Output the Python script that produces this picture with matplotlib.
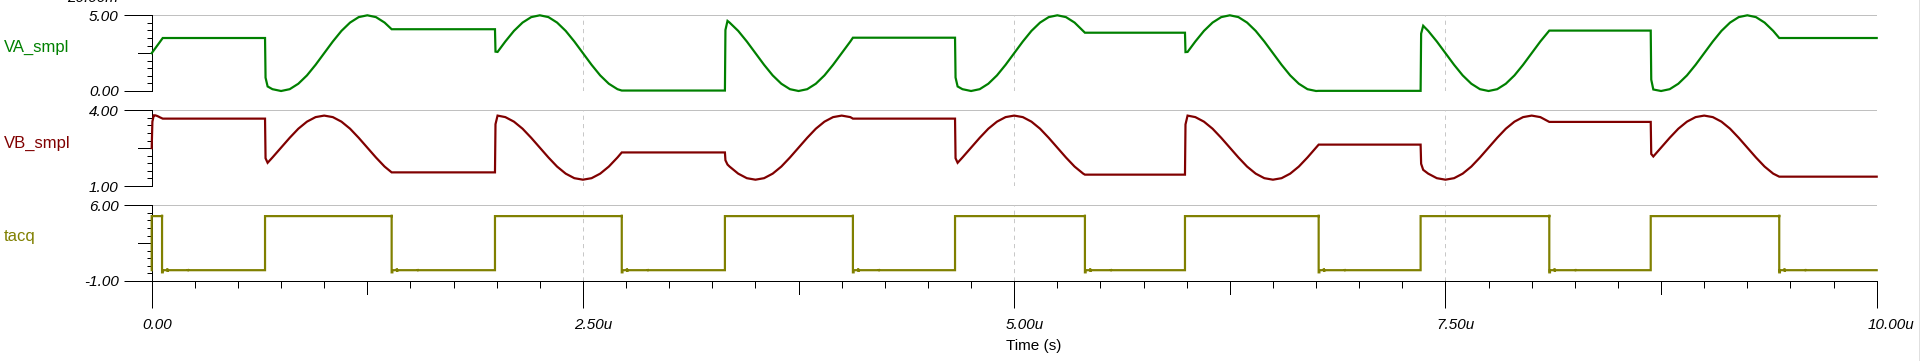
import matplotlib
matplotlib.use("Agg")
import matplotlib.pyplot as plt
from matplotlib.transforms import ScaledTranslation

plt.rcParams['font.family'] = ['Liberation Sans', 'DejaVu Sans']
plt.rcParams['lines.scale_dashes'] = False

# ---------------- data (time in microseconds) ----------------
t_us = [
    0.000, 0.004, 0.012, 0.020, 0.030, 0.040, 0.045, 0.064,
    0.657, 0.660, 0.672, 0.70, 0.75, 0.80, 0.85, 0.90, 0.95, 1.00, 1.05, 1.10, 1.15, 1.20, 1.25, 1.30, 1.35, 1.391,
    1.990, 1.993, 2.005, 2.05, 2.10, 2.15, 2.20, 2.25, 2.30, 2.35, 2.40, 2.45, 2.50, 2.55, 2.60, 2.65, 2.70, 2.725,
    3.323, 3.326, 3.338, 3.35, 3.40, 3.45, 3.50, 3.55, 3.60, 3.65, 3.70, 3.75, 3.80, 3.85, 3.90, 3.95, 4.00, 4.05, 4.065,
    4.657, 4.660, 4.672, 4.70, 4.75, 4.80, 4.85, 4.90, 4.95, 5.00, 5.05, 5.10, 5.15, 5.20, 5.25, 5.30, 5.35, 5.40, 5.410,
    5.990, 5.993, 6.005, 6.05, 6.10, 6.15, 6.20, 6.25, 6.30, 6.35, 6.40, 6.45, 6.50, 6.55, 6.60, 6.65, 6.70, 6.75, 6.765,
    7.356, 7.359, 7.371, 7.40, 7.45, 7.50, 7.55, 7.60, 7.65, 7.70, 7.75, 7.80, 7.85, 7.90, 7.95, 8.00, 8.05, 8.102,
    8.690, 8.693, 8.705, 8.75, 8.80, 8.85, 8.90, 8.95, 9.00, 9.05, 9.10, 9.15, 9.20, 9.25, 9.30, 9.35, 9.40, 9.435,
    10.00,
]
va_smpl = [
    2.50, 2.56, 2.69, 2.81, 2.97, 3.12, 3.20, 3.50,
    3.50, 0.88, 0.30, 0.12, 0.00, 0.12, 0.48, 1.03, 1.73, 2.50, 3.27, 3.97, 4.52, 4.88, 5.00, 4.88, 4.52, 4.08,
    4.08, 2.60, 2.58, 3.27, 3.97, 4.52, 4.88, 5.00, 4.88, 4.52, 3.97, 3.27, 2.50, 1.73, 1.03, 0.48, 0.12, 0.03,
    0.03, 4.03, 4.63, 4.52, 3.97, 3.27, 2.50, 1.73, 1.03, 0.48, 0.12, 0.00, 0.12, 0.48, 1.03, 1.73, 2.50, 3.27, 3.52,
    3.52, 0.89, 0.30, 0.12, 0.00, 0.12, 0.48, 1.03, 1.73, 2.50, 3.27, 3.97, 4.52, 4.88, 5.00, 4.88, 4.52, 3.97, 3.85,
    3.85, 2.57, 2.58, 3.27, 3.97, 4.52, 4.88, 5.00, 4.88, 4.52, 3.97, 3.27, 2.50, 1.73, 1.03, 0.48, 0.12, 0.00, 0.01,
    0.01, 3.79, 4.31, 3.97, 3.27, 2.50, 1.73, 1.03, 0.48, 0.12, 0.00, 0.12, 0.48, 1.03, 1.73, 2.50, 3.27, 3.99,
    3.99, 0.75, 0.10, 0.00, 0.12, 0.48, 1.03, 1.73, 2.50, 3.27, 3.97, 4.52, 4.88, 5.00, 4.88, 4.52, 3.97, 3.50,
    3.50,
]
vb_smpl = [
    2.50, 3.55, 3.80, 3.80, 3.78, 3.75, 3.73, 3.67,
    3.67, 2.10, 1.92, 2.13, 2.52, 2.91, 3.27, 3.55, 3.73, 3.79, 3.73, 3.55, 3.27, 2.91, 2.52, 2.13, 1.77, 1.54,
    1.54, 3.45, 3.79, 3.73, 3.55, 3.27, 2.91, 2.52, 2.13, 1.77, 1.49, 1.31, 1.25, 1.31, 1.49, 1.77, 2.13, 2.33,
    2.33, 2.02, 1.85, 1.77, 1.49, 1.31, 1.25, 1.31, 1.49, 1.77, 2.13, 2.52, 2.91, 3.27, 3.55, 3.73, 3.79, 3.73, 3.67,
    3.67, 2.10, 1.92, 2.13, 2.52, 2.91, 3.27, 3.55, 3.73, 3.79, 3.73, 3.55, 3.27, 2.91, 2.52, 2.13, 1.77, 1.49, 1.45,
    1.45, 3.44, 3.79, 3.73, 3.55, 3.27, 2.91, 2.52, 2.13, 1.77, 1.49, 1.31, 1.25, 1.31, 1.49, 1.77, 2.13, 2.52, 2.64,
    2.64, 1.88, 1.64, 1.49, 1.31, 1.25, 1.31, 1.49, 1.77, 2.13, 2.52, 2.91, 3.27, 3.55, 3.73, 3.79, 3.73, 3.54,
    3.54, 2.27, 2.17, 2.52, 2.91, 3.27, 3.55, 3.73, 3.79, 3.73, 3.55, 3.27, 2.91, 2.52, 2.13, 1.77, 1.49, 1.37,
    1.37,
]

tacq_rise_us = [0.0, 0.657, 1.990, 3.323, 4.657, 5.990, 7.356, 8.690]
tacq_fall_us = [0.060, 1.391, 2.725, 4.065, 5.410, 6.765, 8.102, 9.435]
tacq_high = 5.0
tacq_low = 0.0
tacq_overshoot = 5.12
# small glitch after each falling edge: (delay in us, value)
tacq_glitch = [(0.0, -0.2), (0.004, -0.2), (0.004, 0.0), (0.03, 0.0), (0.03, 0.15),
               (0.032, -0.12), (0.034, 0.0), (0.15, 0.0), (0.15, 0.1), (0.152, 0.0)]

panel_names = ["VA_smpl", "VB_smpl", "tacq"]
panel_ylims = [(0.0, 5.0), (1.0, 4.0), (-1.0, 6.0)]
panel_colors = ["#008000", "#800000", "#808000"]
x_major = [0.0, 2.5, 5.0, 7.5, 10.0]
x_major_labels = ["0.00", "2.50u", "5.00u", "7.50u", "10.00u"]
x_medium = [1.25, 3.75, 6.25, 8.75]

# build tacq step waveform from edge lists
tacq_t = [0.0]
tacq_v = [tacq_low]
for r, f in zip(tacq_rise_us, tacq_fall_us):
    tacq_t += [r, r, f, f]
    tacq_v += [tacq_low, tacq_high, tacq_high, tacq_overshoot]
    for d, v in tacq_glitch:
        tacq_t.append(f + d)
        tacq_v.append(v)
tacq_t.append(10.0)
tacq_v.append(tacq_low)

series = [(t_us, va_smpl), (t_us, vb_smpl), (tacq_t, tacq_v)]

# ---------------- figure ----------------
W, H = 1925, 361
fig = plt.figure(figsize=(W / 100, H / 100), dpi=100)
fig.patch.set_facecolor("white")

L, R = 151.7, 1876.7
panel_px = [(15.3, 91.0), (110.3, 186.0), (205.3, 281.0)]
label_y = [47, 143, 237]
axw = R - L

PX = 72 / 100.0  # points per pixel
tick_font = dict(family=['Liberation Sans', 'DejaVu Sans'], style='italic', size=11)

axes = []
for i, ((top, bot), name, (lo, hi), col, (xs, ys)) in enumerate(
        zip(panel_px, panel_names, panel_ylims, panel_colors, series)):
    ax = fig.add_axes([L / W, 1 - bot / H, axw / W, (bot - top) / H])
    axes.append(ax)
    ax.set_xlim(0, 10)
    ax.set_ylim(lo, hi)
    ax.set_facecolor("white")
    for s in ["top", "right", "bottom"]:
        ax.spines[s].set_visible(False)
    ax.spines["left"].set_color("black")
    ax.spines["left"].set_linewidth(1 * PX)

    # grid / frame lines
    ax.axhline(hi, color="#c0c0c0", lw=1 * PX, zorder=1)
    if i < 2:
        ax.axhline(lo, color="#c0c0c0", lw=1 * PX, zorder=1)
    ax.axvline(10.0, color="#c0c0c0", lw=1 * PX, zorder=1)
    for xv in [2.5, 5.0, 7.5]:
        ax.axvline(xv, color="#c8c8c8", lw=1 * PX, dashes=(3, 3), zorder=1)

    # data
    ax.plot(xs, ys, color=col, lw=2.2 * PX, zorder=3, clip_on=False, solid_joinstyle='miter')

    # y ticks
    step = (hi - lo) / 10.0
    ax.set_yticks([lo, hi])
    ax.set_yticklabels([f"{lo:.2f}", f"{hi:.2f}"], fontdict=tick_font)
    ax.set_yticks([lo + k * step for k in range(1, 10)], minor=True)
    ax.tick_params(axis="y", which="major", length=28 * PX, width=1 * PX,
                   pad=5 * PX, colors="black")
    ax.tick_params(axis="y", which="minor", length=5 * PX, width=1 * PX, colors="black")
    mid = (lo + hi) / 2.0
    ax.plot([-14 / axw, 0], [mid, mid], color="black", lw=1 * PX,
            transform=ax.get_yaxis_transform(), clip_on=False)

    # panel label
    fig.text(4 / W, 1 - label_y[i] / H, name, color=col, size=12,
             ha="left", va="center")

    if i < 2:
        ax.tick_params(axis="x", which="both", bottom=False, labelbottom=False)
    else:
        ax.spines["bottom"].set_visible(True)
        ax.spines["bottom"].set_color("black")
        ax.spines["bottom"].set_linewidth(1 * PX)
        ax.set_xticks(x_major)
        ax.set_xticklabels([])
        ax.set_xticks([k * 0.25 for k in range(41)], minor=True)
        ax.tick_params(axis="x", which="major", length=27 * PX, width=1 * PX, colors="black")
        ax.tick_params(axis="x", which="minor", length=6.5 * PX, width=1 * PX, colors="black")
        hpx = bot - top
        for xv in x_medium:
            ax.plot([xv, xv], [0, -13 / hpx], color="black", lw=1 * PX,
                    transform=ax.get_xaxis_transform(), clip_on=False)
        off = ScaledTranslation(-9 / 100, -44 / 100, fig.dpi_scale_trans)
        for xv, lab in zip(x_major, x_major_labels):
            ax.text(xv, 0, lab, transform=ax.get_xaxis_transform() + off,
                    ha="left", va="center", **tick_font)

# cut-off scale text at the very top (cut off in the reference as well)
fig.text(118 / W, 1 - 2.5 / H, "20.00m", ha="right", va="baseline", **tick_font)

# x axis title
fig.text(1034 / W, 1 - 346 / H, "Time (s)", ha="center", va="center", size=11)

# scrollbar remnant at the right edge
fig.add_artist(plt.Line2D([1918.5 / W, 1918.5 / W], [0, 1], color="#e0e0e0",
                          lw=1 * PX, transform=fig.transFigure))

fig.savefig("out.png", dpi=100, facecolor="white")
